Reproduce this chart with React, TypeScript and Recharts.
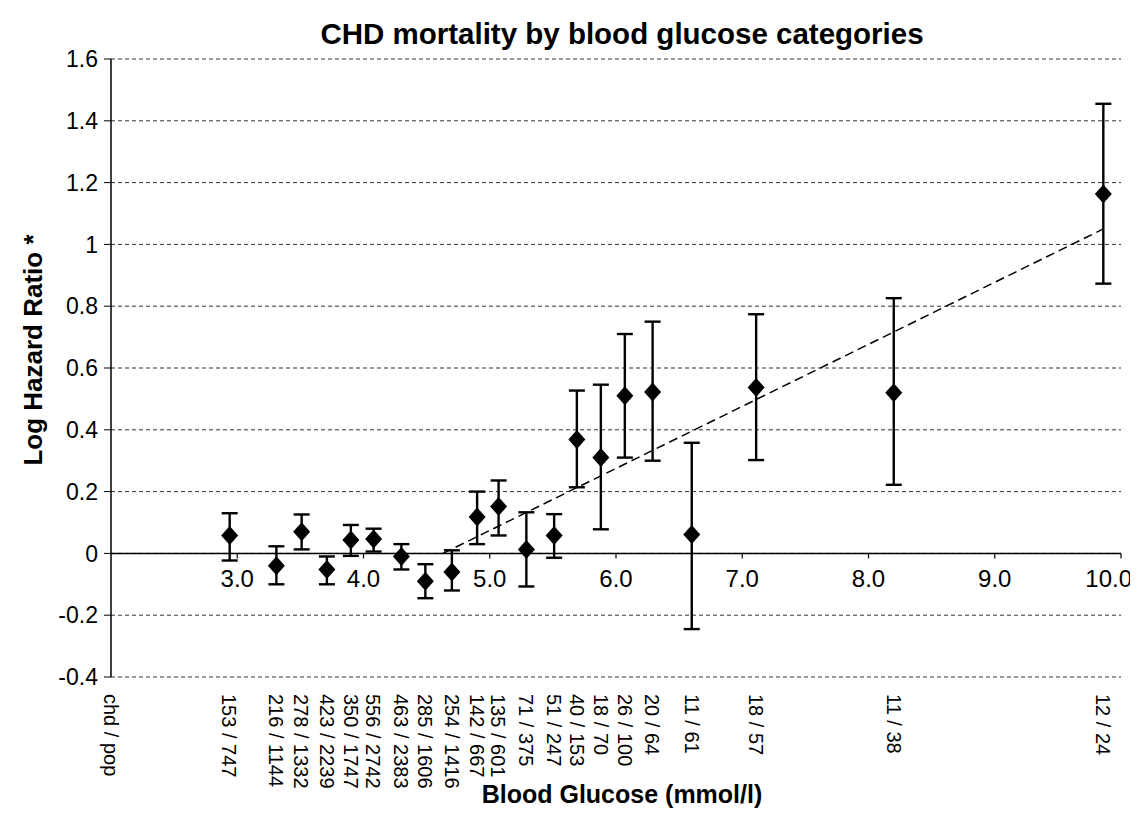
import React from 'react';
import {
  ComposedChart,
  Scatter,
  XAxis,
  YAxis,
  CartesianGrid,
  ErrorBar,
  ReferenceLine,
  Customized,
} from 'recharts';

// ---- data ----
const glucose = [2.94, 3.31, 3.51, 3.71, 3.9, 4.08, 4.3, 4.49, 4.7, 4.9, 5.07, 5.29, 5.51, 5.69, 5.88, 6.07, 6.29, 6.6, 7.11, 8.2, 9.86];
const logHR = [0.058, -0.04, 0.07, -0.052, 0.043, 0.047, -0.01, -0.09, -0.06, 0.118, 0.152, 0.013, 0.058, 0.369, 0.31, 0.51, 0.522, 0.061, 0.537, 0.52, 1.163];
const ciLow = [-0.023, -0.1, 0.013, -0.1, -0.008, 0.006, -0.052, -0.145, -0.12, 0.03, 0.058, -0.107, -0.014, 0.214, 0.078, 0.31, 0.3, -0.245, 0.302, 0.222, 0.873];
const ciHigh = [0.13, 0.023, 0.126, -0.01, 0.092, 0.08, 0.03, -0.035, 0.01, 0.2, 0.236, 0.133, 0.127, 0.527, 0.546, 0.71, 0.75, 0.358, 0.774, 0.826, 1.455];
const countLabels = [
  '153 / 747', '216 / 1144', '278 / 1332', '423 / 2239', '350 / 1747', '556 / 2742', '463 / 2383',
  '285 / 1606', '254 / 1416', '142 / 667', '135 / 601', '71 / 375', '51 / 247', '40 / 153',
  '18 / 70', '26 / 100', '20 / 64', '11 / 61', '18 / 57', '11 / 38', '12 / 24',
];
const originX = 2;
const originLabel = 'chd / pop';
const yTicks = [-0.4, -0.2, 0, 0.2, 0.4, 0.6, 0.8, 1, 1.2, 1.4, 1.6];
const glucoseTicks = [3, 4, 5, 6, 7, 8, 9, 10];
const trendX = [4.63, 9.86];
const trendY = [0, 1.05];

const title = 'CHD mortality by blood glucose categories';
const xTitle = 'Blood Glucose (mmol/l)';
const yTitle = 'Log Hazard Ratio *';

// ---- derived structures ----
const points = glucose.map((x, i) => ({
  x,
  y: logHR[i],
  err: [logHR[i] - ciLow[i], ciHigh[i] - logHR[i]],
}));
const axisPoints = glucoseTicks.map((v) => ({ x: v, y: 0 }));
const bottomTicks = [originX, ...glucose];

const FONT = '"Liberation Sans", Arial, Helvetica, sans-serif';
const CHART_W = 1130;
const CHART_H = 812;

const Diamond = (props: any) => {
  const { cx, cy } = props;
  return (
    <polygon
      points={`${cx},${cy - 9.5} ${cx + 8.5},${cy} ${cx},${cy + 9.5} ${cx - 8.5},${cy}`}
      fill="#000"
    />
  );
};

const AxisMark = (props: any) => {
  const { cx, cy, payload } = props;
  const edge = CHART_W - 6;
  const fits = cx + 26 <= edge;
  return (
    <g>
      <line x1={cx} y1={cy} x2={cx} y2={cy + 5} stroke="#000" strokeWidth={1.2} />
      <text
        x={fits ? cx : edge}
        y={cy + 34}
        textAnchor={fits ? 'middle' : 'end'}
        fontSize={24}
        fontFamily={FONT}
        fill="#000"
      >
        {Number(payload.x).toFixed(1)}
      </text>
    </g>
  );
};

const CountTick = (props: any) => {
  const { x, y, payload } = props;
  const v = payload.value;
  const idx = glucose.indexOf(v);
  const label = idx >= 0 ? countLabels[idx] : originLabel;
  const y0 = y + 9;
  return (
    <text
      x={x}
      y={y0}
      dy="0.36em"
      transform={`rotate(90 ${x} ${y0})`}
      textAnchor="start"
      fontSize={20}
      fontFamily={FONT}
      fill="#000"
    >
      {label}
    </text>
  );
};

const Title = () => (
  <text x={614} y={36} textAnchor="middle" fontSize={29.5} fontWeight="bold" fontFamily={FONT} fill="#000">
    {title}
  </text>
);

export default function App() {
  return (
    <ComposedChart
      width={CHART_W}
      height={CHART_H}
      margin={{ top: 51, right: 17, left: 3, bottom: 0 }}
      style={{ background: '#fff' }}
    >
      <CartesianGrid vertical={false} stroke="#333" strokeDasharray="4 3" strokeWidth={1} />
      <XAxis
        type="number"
        dataKey="x"
        domain={[2, 10]}
        ticks={bottomTicks}
        interval={0}
        axisLine={false}
        tickLine={false}
        height={143}
        tick={<CountTick />}
        label={{
          content: () => (
            <text x={614} y={795} textAnchor="middle" fontSize={25} fontWeight="bold" fontFamily={FONT} fill="#000">
              {xTitle}
            </text>
          ),
        }}
      />
      <YAxis
        type="number"
        dataKey="y"
        domain={[-0.4, 1.6]}
        ticks={yTicks}
        interval={0}
        width={100}
        axisLine={{ stroke: '#000', strokeWidth: 1.5 }}
        tickLine={{ stroke: '#000', strokeWidth: 1 }}
        tickSize={7}
        tickMargin={6}
        tick={{ fontSize: 23, fontFamily: FONT, fill: '#000' }}
        tickFormatter={(v: number) => String(Math.round(v * 10) / 10)}
        label={{
          content: () => (
            <text
              x={34}
              y={342}
              transform="rotate(-90 34 342)"
              textAnchor="middle"
              fontSize={26}
              fontWeight="bold"
              fontFamily={FONT}
              fill="#000"
            >
              {yTitle}
            </text>
          ),
        }}
      />
      <ReferenceLine y={0} stroke="#000" strokeWidth={1.5} />
      <ReferenceLine
        segment={[
          { x: trendX[0], y: trendY[0] },
          { x: trendX[1], y: trendY[1] },
        ]}
        stroke="#000"
        strokeWidth={1.5}
        strokeDasharray="9 5"
      />
      <Scatter data={axisPoints} shape={<AxisMark />} isAnimationActive={false} />
      <Scatter data={points} shape={<Diamond />} isAnimationActive={false}>
        <ErrorBar dataKey="err" direction="y" width={8} stroke="#000" strokeWidth={2.4} />
      </Scatter>
      <Customized component={Title} />
    </ComposedChart>
  );
}
